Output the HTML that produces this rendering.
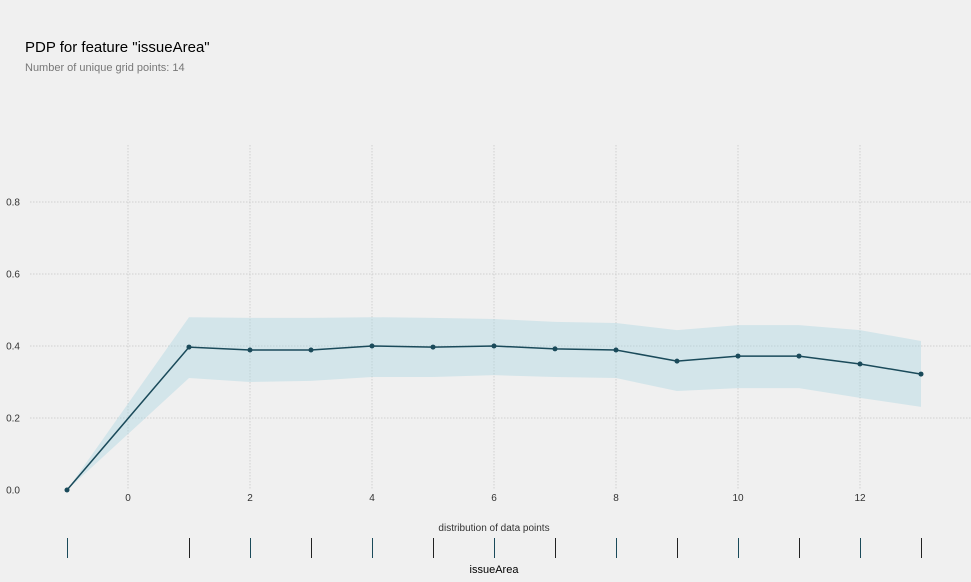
<!DOCTYPE html>
<html><head><meta charset="utf-8"><style>
body{margin:0;background:#f0f0f0;font-family:"Liberation Sans",sans-serif;}
svg{display:block}
</style></head><body>
<svg id="c" width="971" height="582">
<rect width="971" height="582" fill="#f0f0f0"/>
<text x="25" y="52" font-size="15" fill="#000">PDP for feature "issueArea"</text>
<text x="25" y="71" font-size="11" fill="#777">Number of unique grid points: 14</text>
<g id="grid"></g><g id="band"></g><g id="line"></g><g id="ticks"></g><g id="dist"></g>
<text x="494" y="531" font-size="10" fill="#333" text-anchor="middle">distribution of data points</text>
<text x="494" y="573" font-size="11" fill="#000" text-anchor="middle">issueArea</text>
</svg>
<script>
const xs=[-1,1,2,3,4,5,6,7,8,9,10,11,12,13];
const ys=[0,0.397,0.389,0.389,0.4,0.397,0.4,0.392,0.389,0.358,0.372,0.372,0.35,0.322];
const upper=[0,0.48,0.478,0.478,0.48,0.478,0.475,0.467,0.464,0.444,0.458,0.458,0.444,0.414];
const lower=[0,0.311,0.3,0.303,0.314,0.314,0.319,0.314,0.311,0.275,0.283,0.283,0.256,0.231];
const xTicks=[0,2,4,6,8,10,12];
const yTicks=[0.0,0.2,0.4,0.6,0.8];
const distPts=[-1,1,2,3,4,5,6,7,8,9,10,11,12,13];
const X=v=>67+(v+1)*61, Y=v=>490-v*360;
const NS="http://www.w3.org/2000/svg";
function mk(t,a,p){const e=document.createElementNS(NS,t);for(const k in a)e.setAttribute(k,a[k]);document.getElementById(p).appendChild(e);return e;}
xTicks.forEach(t=>{const l=mk('line',{x1:X(t),x2:X(t),y1:145,y2:490,stroke:'#c4c4c4','stroke-dasharray':'1.5,1.5','stroke-width':0.7},'grid');

const tx=mk('text',{x:X(t),y:501,'font-size':10,fill:'#333','text-anchor':'middle'},'ticks');tx.textContent=t;
});
yTicks.forEach(t=>{if(t>0){const l=mk('line',{x1:30,x2:971,y1:Y(t),y2:Y(t),stroke:'#c4c4c4','stroke-dasharray':'1.5,1.5','stroke-width':0.7},'grid');
}
const tx=mk('text',{x:20,y:Y(t)+3.5,'font-size':10,fill:'#333','text-anchor':'end'},'ticks');tx.textContent=t.toFixed(1);
});
let d=xs.map((x,i)=>(i?'L':'M')+X(x)+','+Y(upper[i])).join('')+xs.slice().reverse().map((x,j)=>{const i=xs.length-1-j;return 'L'+X(x)+','+Y(lower[i]);}).join('')+'Z';
const b=mk('path',{d:d,fill:'#a8d4e0','fill-opacity':0.4},'band');

const ln=mk('path',{d:xs.map((x,i)=>(i?'L':'M')+X(x)+','+Y(ys[i])).join(''),fill:'none',stroke:'#1a4a5a','stroke-width':1.5},'line');

xs.forEach((x,i)=>{const c=mk('circle',{cx:X(x),cy:Y(ys[i]),r:2.5,fill:'#1a4a5a'},'line');
});
distPts.forEach((x,i)=>{const l=mk('line',{x1:X(x)+0.5,x2:X(x)+0.5,y1:538,y2:558,stroke:i%2?'#222':'#1a4a5a','stroke-width':1},'dist');
});
</script>
</body></html>
